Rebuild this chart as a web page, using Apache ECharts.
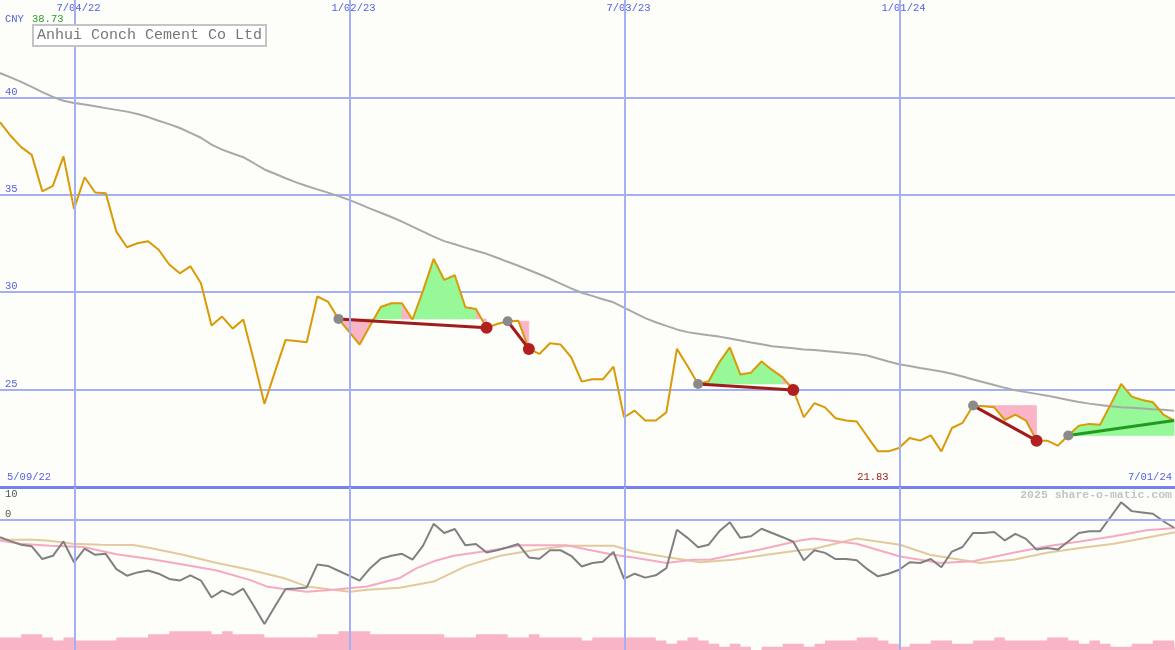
<!DOCTYPE html>
<html><head><meta charset="utf-8">
<script src="https://cdn.jsdelivr.net/npm/echarts@6/dist/echarts.min.js"></script>
<style>html,body{margin:0;padding:0;background:#fdfdf9}#c{width:1175px;height:650px}</style>
</head><body><div id="c"></div>
<script>
// ---- data (weekly points, x = week index) ----
const XMAX = 111.09;
const topTickWeeks = [7.09, 33.09, 59.09, 85.09];
const topTickLabels = ['7/04/22', '1/02/23', '7/03/23', '1/01/24'];
const firstLabel = '5/09/22';
const lastLabel = '7/01/24';
const currency = 'CNY';
const companyName = 'Anhui Conch Cement Co Ltd';

const price = [
  38.73, 38.03, 37.45, 37.05, 35.18, 35.46, 36.97, 34.28, 35.90, 35.12,
  35.08, 33.11, 32.31, 32.51, 32.62, 32.18, 31.42, 30.97, 31.33, 30.46,
  28.29, 28.75, 28.13, 28.60, 26.49, 24.27, 25.92, 27.55, 27.49, 27.43,
  29.78, 29.52, 28.63, 27.98, 27.31, 28.29, 29.24, 29.43, 29.43, 28.60,
  30.08, 31.71, 30.63, 30.87, 29.23, 29.14, 28.17, 28.37, 28.51, 28.54,
  27.09, 26.83, 27.38, 27.31, 26.66, 25.41, 25.53, 25.53, 26.18, 23.58,
  23.92, 23.41, 23.41, 23.83, 27.09, 26.21, 25.29, 25.43, 26.40, 27.17,
  25.77, 25.87, 26.44, 26.01, 25.63, 24.98, 23.58, 24.30, 24.09, 23.53,
  23.41, 23.36, 22.59, 21.83, 21.83, 22.00, 22.52, 22.38, 22.65, 21.83,
  23.03, 23.29, 24.18, 24.15, 24.09, 23.44, 23.72, 23.41, 22.38, 22.38,
  22.12, 22.64, 23.15, 23.24, 23.20, 24.23, 25.29, 24.64, 24.47, 24.35,
  23.72, 23.41
];

const priceMA = [
  41.25, 41.03, 40.80, 40.54, 40.27, 40.03, 39.83, 39.71, 39.63, 39.54,
  39.45, 39.36, 39.27, 39.15, 38.99, 38.80, 38.63, 38.43, 38.18, 37.93,
  37.58, 37.32, 37.12, 36.93, 36.62, 36.30, 36.08, 35.85, 35.64, 35.45,
  35.28, 35.11, 34.93, 34.74, 34.52, 34.29, 34.08, 33.86, 33.62, 33.37,
  33.11, 32.85, 32.62, 32.46, 32.29, 32.13, 31.97, 31.77, 31.56, 31.36,
  31.14, 30.92, 30.69, 30.44, 30.20, 29.97, 29.81, 29.64, 29.48, 29.21,
  28.94, 28.67, 28.46, 28.27, 28.09, 27.95, 27.87, 27.79, 27.72, 27.62,
  27.52, 27.42, 27.33, 27.23, 27.18, 27.12, 27.06, 27.03, 26.98, 26.93,
  26.88, 26.83, 26.75, 26.60, 26.44, 26.30, 26.21, 26.11, 26.02, 25.93,
  25.81, 25.67, 25.52, 25.38, 25.24, 25.09, 24.96, 24.87, 24.78, 24.69,
  24.58, 24.47, 24.36, 24.28, 24.21, 24.14, 24.10, 24.07, 24.03, 23.99,
  23.96, 23.92
];

const osc = [
  -5.4, -6.6, -7.7, -8.2, -12.1, -11.1, -6.7, -13.1, -8.9, -10.8,
  -10.5, -15.2, -17.2, -16.2, -15.6, -16.6, -18.2, -18.7, -17.1, -18.7,
  -23.9, -21.8, -23.1, -21.2, -26.5, -32.0, -26.6, -21.3, -21.1, -20.8,
  -13.8, -14.2, -15.7, -17.2, -18.7, -14.9, -12.0, -11.1, -10.5, -12.3,
  -8.0, -1.3, -4.1, -2.9, -7.9, -7.5, -10.1, -9.4, -8.5, -7.5,
  -11.6, -12.0, -9.4, -9.4, -11.1, -14.4, -13.3, -12.9, -9.9, -18.2,
  -16.6, -17.8, -17.1, -14.9, -3.1, -5.6, -8.5, -7.7, -3.6, -0.8,
  -5.6, -5.1, -2.8, -4.1, -5.4, -6.8, -12.5, -9.4, -10.2, -12.1,
  -12.1, -12.5, -15.2, -17.4, -16.6, -15.4, -13.1, -13.3, -12.1, -14.6,
  -9.8, -8.4, -4.1, -4.1, -3.8, -6.4, -4.4, -5.9, -9.2, -8.7,
  -9.2, -6.7, -4.1, -3.6, -3.6, 0.8, 5.3, 2.6, 2.2, 1.8,
  -0.5, -2.5
];

// smooth averages of the oscillator, [week, value]
const oscFastMA = [
  [0, -6.4], [1.9, -7.4], [4.7, -8.0], [7.9, -8.4], [11.0, -10.6], [14.2, -12.1],
  [17.3, -13.8], [20.5, -15.6], [23.6, -18.5], [25.2, -20.5], [26.8, -21.3],
  [29.0, -22.1], [31.5, -21.5], [34.7, -20.5], [37.8, -17.9], [39.4, -14.9],
  [41.0, -12.8], [42.9, -11.1], [45.7, -9.8], [47.3, -9.0], [49.2, -7.9],
  [53.6, -7.9], [55.5, -9.2], [58.0, -10.8], [59.9, -11.6], [63.0, -13.3],
  [65.5, -12.3], [67.1, -12.3], [69.3, -10.8], [71.9, -9.2], [75.6, -6.4],
  [76.9, -5.8], [81.0, -7.4], [85.1, -11.3], [88.9, -13.3], [92.0, -12.8],
  [95.8, -10.2], [99.0, -8.2], [102.1, -6.7], [105.3, -5.1], [108.4, -3.3],
  [111.09, -2.6]
];
const oscSlowMA = [
  [0, -6.2], [3.1, -6.2], [4.7, -6.5], [6.9, -7.4], [9.5, -7.7], [12.6, -7.8],
  [14.2, -8.7], [17.3, -10.8], [20.5, -13.3], [23.6, -15.4], [26.8, -17.9],
  [29.0, -20.5], [31.5, -21.5], [33.1, -22.1], [34.7, -21.5], [37.8, -20.9],
  [41.0, -19.0], [44.1, -14.2], [47.3, -11.1], [50.4, -9.4], [53.6, -8.0],
  [58.0, -8.0], [59.9, -9.8], [63.0, -11.5], [66.2, -13.1], [69.3, -12.3],
  [72.5, -10.8], [75.6, -9.4], [76.9, -9.0], [81.0, -5.8], [85.1, -7.7],
  [87.9, -10.8], [92.7, -13.3], [95.8, -12.3], [99.0, -10.2], [102.1, -8.7],
  [105.3, -7.4], [108.4, -5.6], [111.09, -3.9]
];

const volume = [
  4, 4, 5, 5, 4, 3, 4, 3, 3, 3,
  3, 4, 4, 4, 5, 5, 6, 6, 6, 6,
  5, 6, 5, 5, 5, 4, 4, 4, 4, 4,
  5, 5, 6, 6, 6, 5, 5, 5, 5, 5,
  5, 5, 4, 4, 4, 5, 5, 5, 4, 4,
  5, 4, 4, 4, 4, 3, 4, 4, 4, 4,
  4, 4, 3, 2, 3, 4, 3, 2, 1, 2,
  1, 0, 1, 1, 2, 2, 1, 2, 3, 3,
  3, 4, 4, 3, 2, 1, 2, 2, 3, 3,
  2, 2, 3, 3, 4, 3, 3, 3, 3, 4,
  4, 3, 2, 3, 2, 1, 1, 2, 2, 3,
  3, 3
];

// trend segments (week index of start / end)
const segStarts = [32, 48, 66, 92, 101];
const segEnds = [46, 50, 75, 98, 111];

// ---- styles ----
const mono = '"Liberation Mono", "DejaVu Sans Mono", monospace';
const blue = '#5560e4';
const gridBlue = '#a4b0f2';
const darkBlue = '#7482ea';
const fillGreen = '#96f896';
const fillPink = '#f9b4c8';
const trendRed = '#a01c1c';
const trendGreen = '#229a22';

const maxPrice = Math.max(...price);
const minPrice = Math.min(...price);
const minIdx = price.indexOf(minPrice);

const priceData = price.map((v, i) => [i, v]);
const maData = priceMA.map((v, i) => [i, v]);
const oscData = osc.map((v, i) => [i, v]);
const volData = volume.map((v, i) => [i, v]);
volData.push([XMAX, volume[volume.length - 1]]);
const segData = segStarts.map((s, k) => [s, price[s], segEnds[k], price[segEnds[k]]]);

// one band per weekly step between the price and the segment's start level,
// coloured by where that step ends (above: green, below: pink)
function renderFill(params, api) {
  const k = params.dataIndex;
  const s = segStarts[k], e = segEnds[k], L = price[s];
  const ch = [];
  for (let i = s; i < e; i++) {
    const col = price[i + 1] >= L ? fillGreen : fillPink;
    ch.push({ type: 'polygon',
      shape: { points: [api.coord([i, price[i]]), api.coord([i + 1, price[i + 1]]), api.coord([i + 1, L]), api.coord([i, L])] },
      style: { fill: col, stroke: col, lineWidth: 0.6 } });
  }
  return { type: 'group', children: ch };
}

function renderTrend(params, api) {
  const k = params.dataIndex;
  const s = segStarts[k], e = segEnds[k];
  const p1 = api.coord([s, price[s]]), p2 = api.coord([e, price[e]]);
  const up = price[e] >= price[s];
  const open = e === price.length - 1;
  const ch = [
    { type: 'line', shape: { x1: p1[0], y1: p1[1], x2: p2[0], y2: p2[1] },
      style: { stroke: up ? trendGreen : trendRed, lineWidth: 3 } },
    { type: 'circle', shape: { cx: p1[0], cy: p1[1], r: 5 }, style: { fill: '#8a8a8a' } }
  ];
  if (!open) ch.push({ type: 'circle', shape: { cx: p2[0], cy: p2[1], r: 6 }, style: { fill: '#b02020' } });
  return { type: 'group', children: ch };
}

const chart = echarts.init(document.getElementById('c'), null, { renderer: 'canvas' });
const option = {
  animation: false,
  backgroundColor: '#fdfdf9',
  title: {
    text: companyName, left: 33, top: 25, padding: [3, 4, 3, 4],
    borderColor: '#c4c4c4', borderWidth: 2, backgroundColor: '#ffffff',
    textStyle: { fontFamily: mono, fontSize: 15, fontWeight: 'normal', color: '#777777' }
  },
  graphic: [
    { type: 'text', left: 5, top: 14, style: { text: currency, fill: blue, font: '10.5px ' + mono } },
    { type: 'text', left: 32, top: 14, style: { text: maxPrice.toFixed(2), fill: '#28a028', font: '10.5px ' + mono } },
    { type: 'text', left: 5, top: 489, style: { text: '10', fill: '#555555', font: '10.5px ' + mono } },
    { type: 'text', right: 3, top: 489, style: { text: '2025 share-o-matic.com', fill: '#c4c4c4', font: 'bold 11.5px ' + mono } }
  ],
  grid: [
    { left: 0, right: 0, top: 0, height: 487, containLabel: false, outerBoundsMode: 'none' },
    { left: 0, right: 0, top: 487, height: 163, containLabel: false, outerBoundsMode: 'none' }
  ],
  xAxis: [
    { gridIndex: 0, type: 'value', min: 0, max: XMAX, position: 'top',
      axisLine: { show: false }, axisTick: { show: false }, splitLine: { show: false },
      axisLabel: { inside: true, customValues: topTickWeeks, margin: 3,
        formatter: v => { const j = topTickWeeks.indexOf(v); return j >= 0 ? '{d|' + topTickLabels[j] + '}' : ''; },
        rich: { d: { color: blue, fontFamily: mono, fontSize: 10.5, padding: [0, 0, 0, 7] } },
        color: blue, fontFamily: mono, fontSize: 10.5 } },
    { gridIndex: 0, type: 'value', min: 0, max: XMAX, position: 'bottom',
      axisLine: { show: false }, axisTick: { show: false }, splitLine: { show: false },
      axisLabel: { inside: true, customValues: [0, minIdx, XMAX], margin: 4,
        alignMinLabel: 'left', alignMaxLabel: 'right',
        formatter: v => v === 0 ? '{f|' + firstLabel + '}' : (v === XMAX ? '{l|' + lastLabel + '}' : '{low|' + minPrice.toFixed(2) + '}'),
        rich: {
          f: { color: blue, fontFamily: mono, fontSize: 10.5, padding: [0, 0, 0, 7] },
          l: { color: blue, fontFamily: mono, fontSize: 10.5, padding: [0, 3, 0, 0] },
          low: { color: '#a01c1c', fontFamily: mono, fontSize: 10.5, padding: [0, 10, 0, 0] }
        },
        color: blue, fontFamily: mono, fontSize: 10.5 } },
    { gridIndex: 1, type: 'value', min: 0, max: XMAX, show: false }
  ],
  yAxis: [
    { gridIndex: 0, type: 'value', min: 20, max: 45, interval: 5,
      axisLine: { show: false }, axisTick: { show: false },
      splitLine: { show: true, showMinLine: false, showMaxLine: false, lineStyle: { color: gridBlue, width: 2 } },
      axisLabel: { inside: true, verticalAlign: 'bottom', showMinLabel: false, showMaxLabel: false, margin: 5,
        color: blue, fontFamily: mono, fontSize: 10.5 } },
    { gridIndex: 1, type: 'value', min: -40, max: 10, interval: 10,
      axisLine: { show: false }, axisTick: { show: false }, splitLine: { show: false },
      axisLabel: { inside: true, verticalAlign: 'bottom', margin: 5,
        formatter: v => (v === 0 || v === -40) ? String(v) : '',
        color: '#555555', fontFamily: mono, fontSize: 10.5 } },
    { gridIndex: 1, type: 'value', min: 0, max: 52, show: false }
  ],
  series: [
    { type: 'line', xAxisIndex: 0, yAxisIndex: 0, data: [], z: 0, silent: true,
      markLine: { silent: true, symbol: 'none', label: { show: false }, animation: false,
        lineStyle: { color: gridBlue, width: 2, type: 'solid' },
        data: topTickWeeks.map(w => ({ xAxis: w })).concat([{ yAxis: 20, lineStyle: { color: darkBlue, width: 3, type: 'solid' } }]) } },
    { type: 'line', xAxisIndex: 2, yAxisIndex: 1, data: [], z: 0, silent: true,
      markLine: { silent: true, symbol: 'none', label: { show: false }, animation: false,
        lineStyle: { color: gridBlue, width: 2, type: 'solid' },
        data: topTickWeeks.map(w => ({ xAxis: w })).concat([{ yAxis: 0 }]) } },
    { type: 'custom', xAxisIndex: 0, yAxisIndex: 0, data: segData, encode: { x: [0, 2], y: [1, 3] },
      renderItem: renderFill, z: 1, silent: true },
    { type: 'line', xAxisIndex: 0, yAxisIndex: 0, data: maData, showSymbol: false, z: 2,
      lineStyle: { color: '#a8a8a8', width: 2 }, silent: true },
    { type: 'line', xAxisIndex: 0, yAxisIndex: 0, data: priceData, showSymbol: false, z: 3,
      lineStyle: { color: '#d99a06', width: 2 }, silent: true },
    { type: 'custom', xAxisIndex: 0, yAxisIndex: 0, data: segData, encode: { x: [0, 2], y: [1, 3] },
      renderItem: renderTrend, z: 4, silent: true },
    { type: 'line', xAxisIndex: 2, yAxisIndex: 2, data: volData, step: 'end', showSymbol: false, z: 1,
      lineStyle: { width: 0 }, areaStyle: { color: fillPink, opacity: 1 }, silent: true },
    { type: 'line', xAxisIndex: 2, yAxisIndex: 1, data: oscSlowMA, showSymbol: false, z: 2,
      lineStyle: { color: '#e2ca9c', width: 2 }, silent: true },
    { type: 'line', xAxisIndex: 2, yAxisIndex: 1, data: oscFastMA, showSymbol: false, z: 2,
      lineStyle: { color: '#f6aac2', width: 2 }, silent: true },
    { type: 'line', xAxisIndex: 2, yAxisIndex: 1, data: oscData, showSymbol: false, z: 3,
      lineStyle: { color: '#808080', width: 2 }, silent: true }
  ]
};
chart.setOption(option);
</script>
</body></html>
